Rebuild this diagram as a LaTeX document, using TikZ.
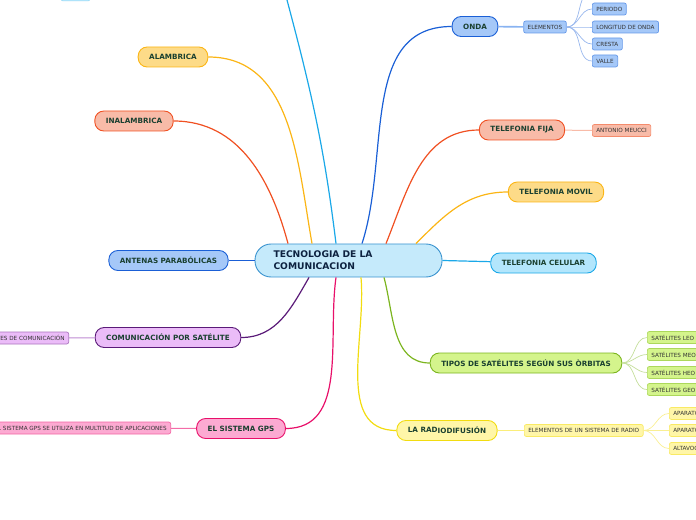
\documentclass[tikz,border=0pt]{standalone}
\usepackage{fontspec}
\setmainfont{DejaVu Sans}
\usetikzlibrary{positioning}

\definecolor{txtgreen}{HTML}{1A4030}
\definecolor{txtnavy}{HTML}{0D2240}
\definecolor{cBlue}{HTML}{1A5FD6}
\definecolor{fBlue}{HTML}{A5C8F8}
\definecolor{cCyan}{HTML}{1AA8E8}
\definecolor{fCyan}{HTML}{B3E6FC}
\definecolor{cCore}{HTML}{3A93CF}
\definecolor{fCore}{HTML}{C5EAFB}
\definecolor{cOrange}{HTML}{F05022}
\definecolor{fOrange}{HTML}{F8BBA8}
\definecolor{cYellow}{HTML}{FBB515}
\definecolor{fYellow}{HTML}{FDDB88}
\definecolor{cGreen}{HTML}{7CB520}
\definecolor{fGreen}{HTML}{D4F48C}
\definecolor{cLemon}{HTML}{F2DC10}
\definecolor{fLemon}{HTML}{FFF6A8}
\definecolor{cPurple}{HTML}{5A1A78}
\definecolor{fPurple}{HTML}{EBBCF8}
\definecolor{cPink}{HTML}{E8106A}
\definecolor{fPink}{HTML}{FCAAD2}

\begin{document}
\begin{tikzpicture}[x=1bp, y=-1bp,
  topic/.style={draw=c#1, fill=f#1, rounded corners=9bp, line width=0.9bp, minimum height=20bp,
    inner xsep=11bp, inner ysep=0pt, text=txtgreen, font=\fontsize{7.25}{8}\selectfont\bfseries},
  leaf/.style={draw=c#1!45!f#1, fill=f#1, rounded corners=2bp, line width=0.7bp, minimum height=12bp,
    inner xsep=4bp, inner ysep=0pt, text=black!80, font=\fontsize{5.7}{6}\selectfont},
  link/.style={draw=#1, line width=1.2bp},
  twig/.style={draw=#1, line width=0.7bp}]
\useasboundingbox (0,0) rectangle (696,520);

% centre
\node[draw=cCore, fill=fCore, rounded corners=16bp, line width=0.9bp, minimum height=33bp,
  text width=150bp, inner xsep=18.5bp, align=left, text=txtnavy,
  font=\fontsize{9.2}{11.8}\selectfont\bfseries] (tec) at (348.5,260.5) {TECNOLOGIA DE LA\\COMUNICACION};

% main branches
\node[topic=Yellow] (alam) at (173,57) {ALAMBRICA};
\node[topic=Orange] (inal) at (134,121) {INALAMBRICA};
\node[topic=Blue] (antenas) at (168.5,260.5) {ANTENAS PARABÓLICAS};
\node[topic=Purple] (comsat) at (168,337.5) {COMUNICACIÓN POR SATÉLITE};
\node[topic=Pink] (gps) at (241,428.5) {EL SISTEMA GPS};
\node[topic=Blue] (onda) at (475,26.5) {ONDA};
\node[topic=Orange] (fija) at (522,130) {TELEFONIA FIJA};
\node[topic=Yellow] (movil) at (556,192) {TELEFONIA MOVIL};
\node[topic=Cyan] (celular) at (543.5,263) {TELEFONIA CELULAR};
\node[topic=Green] (tipos) at (526,363) {TIPOS DE SATÉLITES SEGÚN SUS ÒRBITAS};
\node[topic=Lemon] (radio) at (447,430.5) {LA RAD\raisebox{-1.5bp}{IODIFUSIÓN}};
\node[draw=cCyan!50, fill=fCyan, rounded corners=2bp, minimum width=29bp, minimum height=12bp] (arriba) at (75.5,-5) {};
\coordinate (topend) at (283,-15);

% leaves
\node[leaf=Blue, minimum width=42bp] (elem) at (545,27) {ELEMENTOS};
\coordinate (ondatop) at (592,-8);
\node[leaf=Blue, anchor=west] (periodo) at (592,9) {PERIODO};
\node[leaf=Blue, anchor=west] (longitud) at (592,27) {LONGITUD DE ONDA};
\node[leaf=Blue, anchor=west] (cresta) at (592,44) {CRESTA};
\node[leaf=Blue, anchor=west] (valle) at (592,61) {VALLE};
\node[leaf=Orange, anchor=west] (meucci) at (592,130.5) {ANTONIO MEUCCI};
\node[leaf=Green, anchor=west] (leo) at (647,337.5) {SATÉLITES LEO};
\node[leaf=Green, anchor=west] (meo) at (647,354.5) {SATÉLITES MEO};
\node[leaf=Green, anchor=west] (heo) at (647,372.5) {SATÉLITES HEO};
\node[leaf=Green, anchor=west] (geo) at (647,389.5) {SATÉLITES GEO};
\node[leaf=Lemon, anchor=west] (elemradio) at (524,430.5) {ELEMENTOS DE UN SISTEMA DE RADIO};
\node[leaf=Lemon, anchor=west] (emisor) at (669,413.5) {APARATO EMISOR};
\node[leaf=Lemon, anchor=west] (receptor) at (669,430.5) {APARATO RECEPTOR};
\node[leaf=Lemon, anchor=west] (altavoz) at (669,448.5) {ALTAVOCES};
\node[leaf=Purple, anchor=east] (satcom) at (69,338) {SATÉLITES DE COMUNICACIÓN};
\node[leaf=Pink, anchor=east] (gpsuso) at (171,428) {EL SISTEMA GPS SE UTILIZA EN MULTITUD DE APLICACIONES};

% branches from the centre
\path[link=cOrange] ([xshift=-60.5bp]tec.north) edge[out=105, in=0] (inal);
\path[link=cYellow] ([xshift=-36.5bp]tec.north) edge[out=100, in=0] (alam);
\path[link=cCyan] ([xshift=-12.5bp]tec.north) edge[out=97, in=-75] (topend);
\path[link=cBlue] ([xshift=13.5bp]tec.north) edge[out=72, in=180] (onda);
\path[link=cOrange] ([xshift=37.5bp]tec.north) edge[out=68, in=180] (fija);
\path[link=cYellow] ([xshift=67.5bp]tec.north) edge[out=45, in=180] (movil);
\path[link=cBlue] (tec.west) edge (antenas);
\path[link=cCyan] (tec.east) edge (celular);
\path[link=cPurple] ([xshift=-39.5bp]tec.south) edge[out=-120, in=0] (comsat);
\path[link=cPink] ([xshift=-12.5bp]tec.south) edge[out=-98, in=0] (gps);
\path[link=cLemon] ([xshift=12.5bp]tec.south) edge[out=-85, in=180] (radio);
\path[link=cGreen] ([xshift=35.5bp]tec.south) edge[out=-75, in=180] (tipos);

% sub branches
\path[link=fBlue!80!cBlue, line width=1.6bp] (onda) edge (elem);
\path[twig=cBlue!45] (elem.east) edge[out=0, in=180] (ondatop)
  (elem.east) edge[out=0, in=180] (periodo)
  (elem.east) edge[out=0, in=180] (longitud)
  (elem.east) edge[out=0, in=180] (cresta)
  (elem.east) edge[out=0, in=180] (valle);
\path[link=fOrange, line width=1bp] (fija) edge (meucci);
\path[twig=cGreen!45] (tipos.east) edge[out=0, in=180] (leo)
  (tipos.east) edge[out=0, in=180] (meo)
  (tipos.east) edge[out=0, in=180] (heo)
  (tipos.east) edge[out=0, in=180] (geo);
\path[link=fLemon!70!cLemon, line width=1.6bp] (radio) edge (elemradio);
\path[twig=cLemon!45] (elemradio.east) edge[out=0, in=180] (emisor)
  (elemradio.east) edge[out=0, in=180] (receptor)
  (elemradio.east) edge[out=0, in=180] (altavoz);
\path[link=fPurple!70!cPurple, line width=1bp] (comsat) edge (satcom);
\path[link=fPink!60!cPink, line width=1bp] (gps) edge (gpsuso);
\end{tikzpicture}
\end{document}
